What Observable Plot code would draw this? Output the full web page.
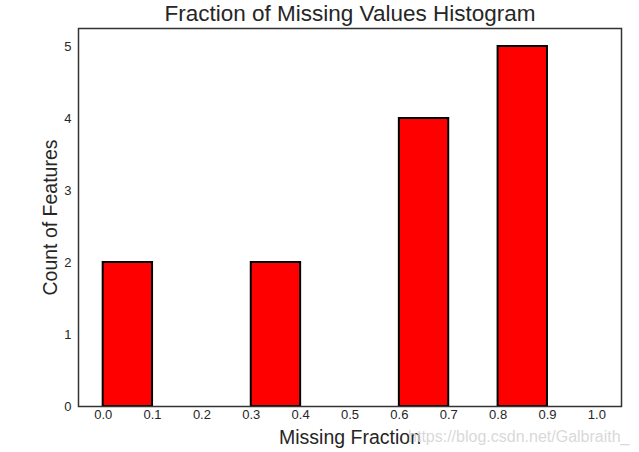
<!DOCTYPE html>
<html>
<head>
<meta charset="utf-8">
<script src="https://cdn.jsdelivr.net/npm/d3@7"></script>
<script src="https://cdn.jsdelivr.net/npm/@observablehq/plot@0.6"></script>
<style>
  html, body { margin: 0; padding: 0; background: #fff; }
  svg { font-family: "Liberation Sans", Arial, sans-serif; }
</style>
</head>
<body>
<div id="chart"></div>
<script>
const binStarts = [0.0, 0.1, 0.2, 0.3, 0.4, 0.5, 0.6, 0.7, 0.8, 0.9];
const binEnds   = [0.1, 0.2, 0.3, 0.4, 0.5, 0.6, 0.7, 0.8, 0.9, 1.0];
const counts    = [2, 0, 0, 2, 0, 0, 4, 0, 5, 0];
const xTicks = [0.0, 0.1, 0.2, 0.3, 0.4, 0.5, 0.6, 0.7, 0.8, 0.9, 1.0];
const yTicks = [0, 1, 2, 3, 4, 5];
const title = "Fraction of Missing Values Histogram";
const xLabel = "Missing Fraction";
const yLabel = "Count of Features";
const watermark = "https://blog.csdn.net/Galbraith_";

const bins = binStarts.map((s, i) => ({x1: s, x2: binEnds[i], count: counts[i]}));

const chart = Plot.plot({
  width: 639,
  height: 452,
  marginLeft: 78,
  marginRight: 18,
  marginTop: 28,
  marginBottom: 46,
  style: {fontFamily: "Liberation Sans, Arial, sans-serif", background: "#fff"},
  x: {domain: [-0.05, 1.05], label: null},
  y: {domain: [0, 5.25], label: null},
  marks: [
    Plot.rectY(bins.filter(d => d.count > 0), {x1: "x1", x2: "x2", y1: 0, y2: "count", fill: "#ff0000", stroke: "#000", strokeWidth: 2}),
    Plot.axisX({ticks: xTicks, tickFormat: d3.format(".1f"), tickSize: 0, tickPadding: 3, fontSize: 13, fill: "#262626", label: null}),
    Plot.axisY({ticks: yTicks, tickFormat: d3.format("d"), tickSize: 0, tickPadding: 7, fontSize: 13, fill: "#262626", label: null}),
    Plot.frame({stroke: "#333", strokeWidth: 1.5}),
    Plot.text([title], {frameAnchor: "top", lineAnchor: "middle", dy: -15, fontSize: 22.5, fill: "#262626", text: d => d}),
    Plot.text([xLabel], {frameAnchor: "bottom", lineAnchor: "middle", dy: 31, fontSize: 19.5, fill: "#262626", text: d => d}),
    Plot.text([yLabel], {frameAnchor: "left", textAnchor: "middle", lineAnchor: "middle", dx: -28, rotate: -90, fontSize: 19.5, fill: "#262626", text: d => d}),
    Plot.text([watermark], {frameAnchor: "bottom-right", lineAnchor: "middle", dx: 8, dy: 30, fontSize: 16, fill: "#d9d9d9", text: d => d})
  ]
});
document.getElementById("chart").appendChild(chart);
</script>
</body>
</html>
